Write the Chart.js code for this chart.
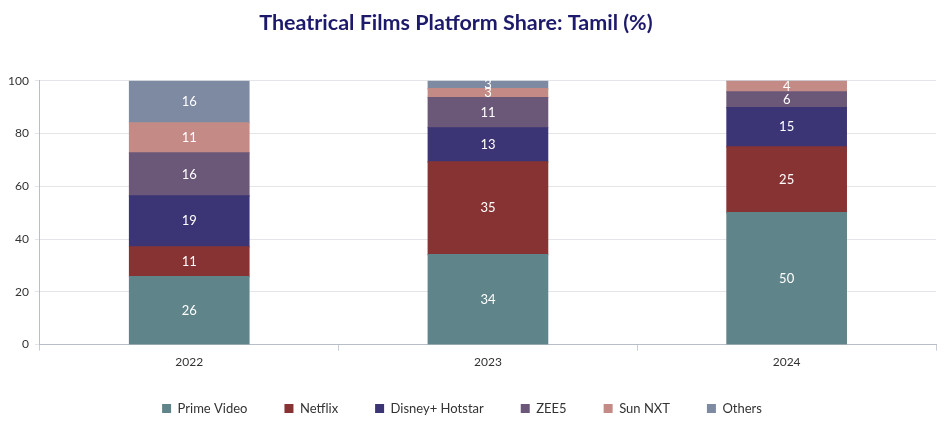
<!DOCTYPE html>
<html>
<head>
<meta charset="utf-8">
<script src="https://cdn.jsdelivr.net/npm/chart.js@4"></script>
<style>
html,body{margin:0;padding:0;background:#fff;}
#wrap{width:950px;height:427px;}
</style>
</head>
<body>
<div id="wrap"><canvas id="c"></canvas></div>
<script>
const categories = ["2022", "2023", "2024"];
const primeVideo = [25.8, 34.1, 50.0];
const netflix = [11.3, 35.2, 25.0];
const disneyHotstar = [19.3, 12.9, 14.8];
const zee5 = [16.3, 11.4, 6.0];
const sunNxt = [11.4, 3.4, 4.2];
const others = [15.9, 3.0, 0];
const yTicks = [0, 20, 40, 60, 80, 100];

const FONT = "Lato, 'Noto Sans', sans-serif";
const LEGEND_SHIFT = 8;
const LEGEND_XSHIFT = -7;

const labelPlugin = {
  id: 'barLabels',
  afterDatasetsDraw(chart) {
    const ctx = chart.ctx;
    ctx.save();
    ctx.font = "13px " + FONT;
    ctx.textAlign = 'center';
    ctx.textBaseline = 'middle';
    chart.data.datasets.forEach((ds, i) => {
      const meta = chart.getDatasetMeta(i);
      if (meta.hidden) return;
      meta.data.forEach((bar, j) => {
        const v = ds.data[j];
        if (!v) return;
        const p = bar.getProps(['x', 'y', 'base']);
        const cy = (p.y + p.base) / 2;
        ctx.fillStyle = '#ffffff';
        ctx.fillText(String(Math.round(v)), p.x, cy);
      });
    });
    ctx.restore();
  }
};

const legendTweak = {
  id: 'legendTweak',
  afterInit(chart) {
    const lg = chart.legend;
    if (!lg) return;
    const of = lg.fit.bind(lg);
    lg.fit = function () { of(); this.height -= LEGEND_SHIFT; };
    const od = lg.draw.bind(lg);
    lg.draw = function () {
      const c = this.ctx; c.save(); c.translate(LEGEND_XSHIFT, -LEGEND_SHIFT); od(); c.restore();
    };
  }
};

const mk = (label, data, color) => ({
  label, data, backgroundColor: color, borderWidth: 0, inflateAmount: 0.6,
  categoryPercentage: 1.0, barPercentage: 0.4
});

new Chart(document.getElementById('c'), {
  type: 'bar',
  data: {
    labels: categories,
    datasets: [
      mk('Prime Video', primeVideo, '#5f8489'),
      mk('Netflix', netflix, '#873333'),
      mk('Disney+ Hotstar', disneyHotstar, '#3b3575'),
      mk('ZEE5', zee5, '#6b5878'),
      mk('Sun NXT', sunNxt, '#c48b86'),
      mk('Others', others, '#7e8aa2')
    ]
  },
  options: {
    responsive: true,
    maintainAspectRatio: false,
    animation: false,
    layout: { padding: { left: 2, right: 14, top: 0, bottom: 2 } },
    plugins: {
      title: {
        display: true,
        text: 'Theatrical Films Platform Share: Tamil (%)     ',
        color: '#1d1a6b',
        font: { family: FONT, size: 21.5, weight: 'bold' },
        padding: { top: 10, bottom: 45 }
      },
      legend: {
        position: 'bottom',
        labels: {
          color: '#333',
          font: { family: FONT, size: 13 },
          boxWidth: 9, boxHeight: 9,
          padding: 37
        }
      },
      tooltip: { enabled: false }
    },
    scales: {
      x: {
        stacked: true,
        grid: { display: true, offset: true, drawOnChartArea: false, drawTicks: true, tickLength: 6, color: '#c8ccd4' },
        border: { color: '#b8bec8' },
        ticks: { color: '#333', font: { family: FONT, size: 12 }, padding: 4 }
      },
      y: {
        stacked: true,
        min: 0, max: 100,
        afterBuildTicks(axis) { axis.ticks = yTicks.map(v => ({ value: v })); },
        grid: { color: '#e3e5e8', drawTicks: true, tickLength: 5 },
        border: { color: '#b8bec8' },
        ticks: { color: '#333', font: { family: FONT, size: 12 }, padding: 6 }
      }
    }
  },
  plugins: [labelPlugin, legendTweak]
});
</script>
</body>
</html>
